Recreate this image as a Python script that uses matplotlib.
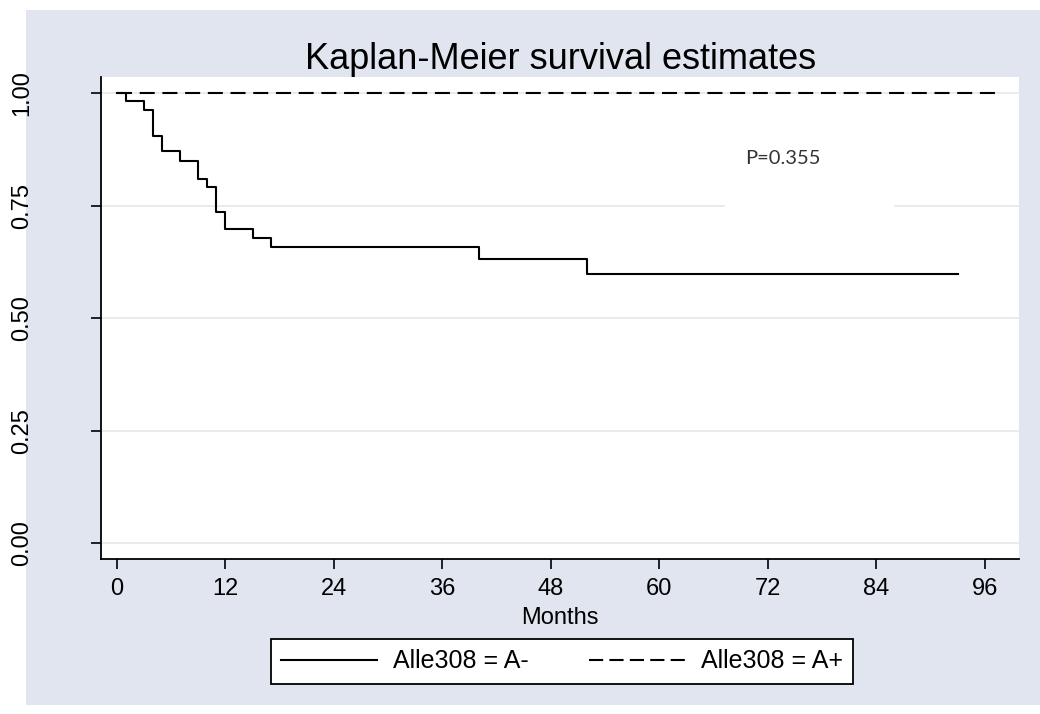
import matplotlib
matplotlib.use("Agg")
import matplotlib.pyplot as plt
from matplotlib.patches import Rectangle
from matplotlib.lines import Line2D

plt.rcParams['font.family'] = ['Liberation Sans', 'DejaVu Sans']

# Data
title = "Kaplan-Meier survival estimates"
xlabel = "Months"
xticks = [0, 12, 24, 36, 48, 60, 72, 84, 96]
yticks = [0.00, 0.25, 0.50, 0.75, 1.00]
ytick_labels = ["0.00", "0.25", "0.50", "0.75", "1.00"]

# group A- : step times (months) and survival after each step
aminus_times = [0, 1, 3, 4, 5, 7, 9, 10, 11, 12, 15, 17, 40, 52, 93]
aminus_surv = [1.000, 0.983, 0.963, 0.906, 0.871, 0.850, 0.810, 0.792,
               0.736, 0.698, 0.678, 0.658, 0.631, 0.598, 0.598]
# group A+ : no events
aplus_times = [0, 97.5]
aplus_surv = [1.0, 1.0]

labels = ["Alle308 = A-", "Alle308 = A+"]
pvalue_text = "P=0.355"

W, H = 1040, 714
fig = plt.figure(figsize=(W / 100, H / 100), dpi=100, facecolor="white")

bg = "#E1E5F0"
fig.patches.append(Rectangle((26 / W, 1 - 705 / H), (W - 26) / W, (705 - 10) / H,
                             transform=fig.transFigure, facecolor=bg,
                             edgecolor="none", zorder=-10))

L, R, T, B = 101, 1019.3, 77, 559
ax = fig.add_axes([L / W, 1 - B / H, (R - L) / W, (B - T) / H])
ax.set_zorder(1)
ax.set_facecolor("white")
ax.set_xlim(-1.77, 99.82)
ax.set_ylim(-0.035, 1.036)

for y in yticks:
    ax.axhline(y, color="#E8E8E8", lw=1.2, zorder=1)

# white box behind the p-value annotation
ax.add_patch(Rectangle((67.3, 0.748), 18.7, 0.22, facecolor="white",
                       edgecolor="none", zorder=1.5))

lw = 1.5
dash = (0, (7.2, 3.7))
l1, = ax.step(aminus_times, aminus_surv, where="post", color="black",
              lw=lw, label=labels[0], zorder=3)
l2, = ax.plot(aplus_times, aplus_surv, color="black", lw=lw,
              linestyle=dash, label=labels[1], zorder=3)

ax.text(73.7, 0.854, pvalue_text, fontsize=14.5, color="#333333",
        family=["Lato", "DejaVu Sans"], ha="center", va="center", zorder=4)

for s in ["top", "right"]:
    ax.spines[s].set_visible(False)
for s in ["left", "bottom"]:
    ax.spines[s].set_linewidth(1.3)
    ax.spines[s].set_color("black")

ax.set_xticks(xticks)
ax.set_xticklabels([str(t) for t in xticks], fontsize=17)
ax.set_yticks(yticks)
ax.set_yticklabels(ytick_labels, fontsize=17, rotation=90, va="center")
ax.tick_params(direction="out", length=7, width=1.2, color="black")
ax.tick_params(axis="x", pad=7)
ax.tick_params(axis="y", pad=42)

ax.set_xlabel(xlabel, fontsize=17, labelpad=5)
ax.set_title(title, fontsize=26, pad=6)

# legend keys (proxy handles with the same styles as the plotted lines)
h1 = Line2D([], [], color="black", lw=lw)
h2 = Line2D([], [], color="black", lw=lw, linestyle=(0, (6.8, 3.0)))
leg = fig.legend(handles=[h1, h2], labels=labels, ncol=2,
                 loc="center", bbox_to_anchor=(562 / W, 1 - 661.5 / H),
                 fontsize=18, handlelength=3.84, columnspacing=2.4,
                 handletextpad=0.64, frameon=True, fancybox=False,
                 edgecolor="black", framealpha=1, borderpad=0.42)
leg.get_frame().set_linewidth(1.3)

fig.savefig("out.png", dpi=100, facecolor="white")
